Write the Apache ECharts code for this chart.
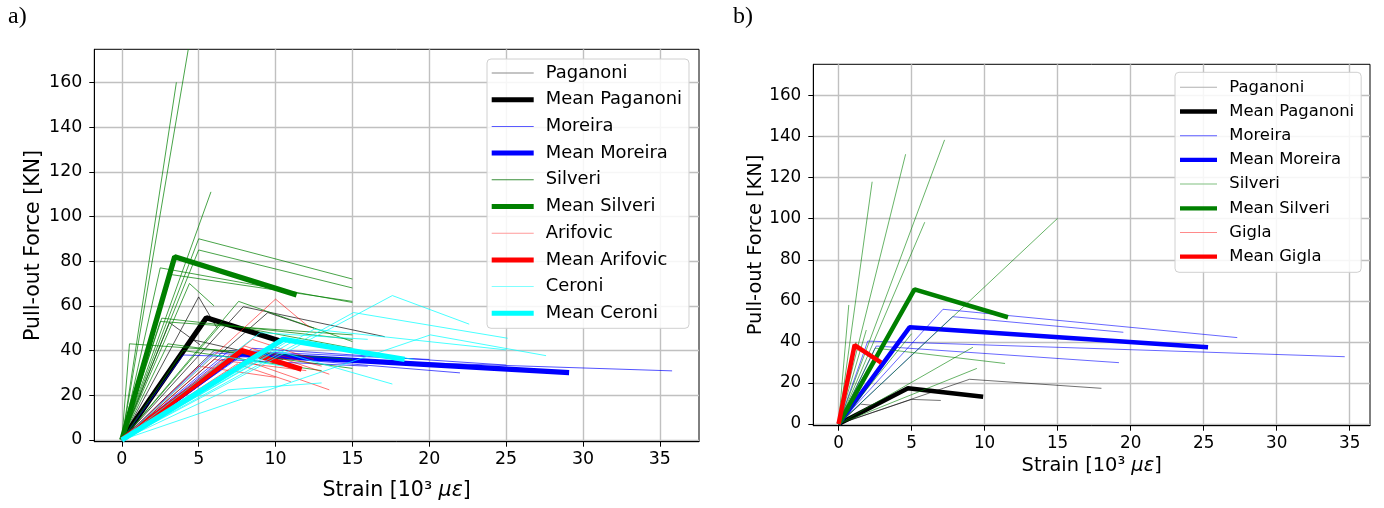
<!DOCTYPE html>
<html><head><meta charset="utf-8">
<script src="https://cdn.jsdelivr.net/npm/echarts@6/dist/echarts.min.js"></script>
<style>html,body{margin:0;padding:0;background:#fff}#c{width:1384px;height:508px}</style>
</head><body><div id="c"></div>
<script>
// ---------- Panel a) data : polylines [strain (10^3 µε), force (kN)] ----------
const paganoniA = [
  [[0,0],[5.0,64],[6.2,50]],
  [[0,0],[3.1,52.5],[5.1,42.5]],
  [[0,0],[7.9,59.6],[17.1,46.2]],
  [[0,0],[9.5,57],[12.5,50]],
  [[0,0],[4.5,45],[9,38]],
  [[0,0],[6,40],[10.5,36]]
];
const meanPaganoniA = [[0,0],[5.5,54.7],[10.4,44]];
const moreiraA = [
  [[0,0],[4,38],[35.8,30.9]],
  [[0,0],[6,39],[22,30]],
  [[0,0],[7,40],[20,36]],
  [[0,0],[8.5,41],[25,33.5]],
  [[0,0],[6.5,36],[16,33]]
];
const meanMoreiraA = [[0,0],[7.6,38.5],[29.1,30.1]];
const silveriA = [
  [[0,0],[4.6,186]],
  [[0,0],[3.55,160]],
  [[0,0],[5.8,111]],
  [[0,0],[5,90],[15,72]],
  [[0,0],[5,85],[15,68]],
  [[0,0],[2.5,77],[15,61.5]],
  [[0,0],[3.2,74],[15,62]],
  [[0,0],[7.6,62],[15,44]],
  [[0,0],[2.6,54.5],[15,45]],
  [[0,0],[2.5,53],[15,47]],
  [[0,0],[0.5,43],[15,36]],
  [[0,0],[3,43],[15,32]],
  [[0,0],[6.5,52],[15,41]],
  [[0,0],[4,40],[13,31]],
  [[0,0],[4.4,70],[6,60]]
];
const meanSilveriA = [[0,0],[3.44,82],[11.37,64.9]];
const arifovicA = [
  [[0,0],[10,63],[12.2,50.4]],
  [[0,0],[8,42],[13.5,29.4]],
  [[0,0],[7,38],[13.5,22.4]],
  [[0,0],[9,40],[13,33]],
  [[0,0],[6,36],[12,31]],
  [[0,0],[8.5,45],[12.5,36]],
  [[0,0],[7.5,34],[11,26]],
  [[0,0],[5,33],[10,28]]
];
const meanArifovicA = [[0,0],[7.8,40],[11.7,31.6]];
const ceroniA = [
  [[0,0],[17.6,64.6],[22.6,51.8]],
  [[0,0],[15.07,57],[25.1,45.5]],
  [[0,0],[12.5,49.5],[25,40.3]],
  [[0,0],[20.07,47],[27.6,37.7]],
  [[0,0],[10,40],[17.6,25]],
  [[0,0],[6.9,22.4],[13,25.5]],
  [[0,0],[9,48],[16,45]],
  [[0,0],[6,38],[10.5,33]],
  [[0,0],[11,45],[19,36]]
];
const meanCeroniA = [[0,0],[10.5,45],[18.4,36]];

// ---------- Panel b) data ----------
const paganoniB = [
  [[0,0],[8.97,21.8],[18,17.4]],
  [[0,0],[1.5,9.7],[2.5,9]],
  [[0,0],[5,12],[7,11.5]]
];
const meanPaganoniB = [[0,0],[4.75,17.4],[9.9,13.3]];
const moreiraB = [
  [[0,0],[7.15,55.9],[27.3,42.1]],
  [[0,0],[7.8,52.3],[19.5,44.7]],
  [[0,0],[2.0,40.4],[34.66,32.8]],
  [[0,0],[2.58,38],[19.2,29.9]]
];
const meanMoreiraB = [[0,0],[4.86,47.1],[25.3,37.4]];
const silveriB = [
  [[0,0],[4.59,131.4]],
  [[0,0],[7.26,138.4]],
  [[0,0],[2.3,118]],
  [[0,0],[5.9,98.3]],
  [[0,0],[0.7,58]],
  [[0,0],[15,100.2]],
  [[0,0],[9.2,37.4]],
  [[0,0],[9.47,27.1]],
  [[0,0],[2.5,37],[11.4,29.5]],
  [[0,0],[1.9,45.8]],
  [[0,0],[1.2,40]],
  [[0,0],[5,44]]
];
const meanSilveriB = [[0,0],[5.2,65.6],[11.6,52]];
const giglaB = [
  [[0,0],[1.0,37],[2.8,31]]
];
const meanGiglaB = [[0,0],[1.1,38.5],[2.92,29.9]];

// ---------- tick labels ----------
const xTicks = [0,5,10,15,20,25,30,35];
const yTicks = [0,20,40,60,80,100,120,140,160];
const legendA = ['Paganoni','Mean Paganoni','Moreira','Mean Moreira','Silveri','Mean Silveri','Arifovic','Mean Arifovic','Ceroni','Mean Ceroni'];
const legendB = ['Paganoni','Mean Paganoni','Moreira','Mean Moreira','Silveri','Mean Silveri','Gigla','Mean Gigla'];

const FONT = '"DejaVu Sans", sans-serif';
function group(arr, name, color, width, gi, op) {
  return arr.map(pts => ({
    type: 'line', name: name, xAxisIndex: gi, yAxisIndex: gi, data: pts,
    symbol: 'none', silent: true, animation: false,
    lineStyle: {color: color, width: width, opacity: op},
    itemStyle: {color: color}
  }));
}
function mean(pts, name, color, width, gi) {
  return group([pts], name, color, width, gi, 1);
}
const GREEN = '#008000';
const series = [].concat(
  group(paganoniA, 'Paganoni', '#000', 0.8, 0, 0.85),
  mean(meanPaganoniA, 'Mean Paganoni', '#000', 5.3, 0),
  group(moreiraA, 'Moreira', '#0000ff', 0.8, 0, 0.85),
  mean(meanMoreiraA, 'Mean Moreira', '#0000ff', 5.3, 0),
  group(silveriA, 'Silveri', GREEN, 0.8, 0, 0.9),
  mean(meanSilveriA, 'Mean Silveri', GREEN, 5.3, 0),
  group(arifovicA, 'Arifovic', '#ff0000', 0.8, 0, 0.7),
  mean(meanArifovicA, 'Mean Arifovic', '#ff0000', 5.3, 0),
  group(ceroniA, 'Ceroni', '#00ffff', 0.8, 0, 0.9),
  mean(meanCeroniA, 'Mean Ceroni', '#00ffff', 5.3, 0),

  group(paganoniB, 'Paganoni', '#000', 0.7, 1, 0.8),
  mean(meanPaganoniB, 'Mean Paganoni', '#000', 4.5, 1),
  group(moreiraB, 'Moreira', '#0000ff', 0.7, 1, 0.85),
  mean(meanMoreiraB, 'Mean Moreira', '#0000ff', 4.5, 1),
  group(silveriB, 'Silveri', GREEN, 0.7, 1, 0.85),
  mean(meanSilveriB, 'Mean Silveri', GREEN, 4.5, 1),
  group(giglaB, 'Gigla', '#ff0000', 0.7, 1, 0.6),
  mean(meanGiglaB, 'Mean Gigla', '#ff0000', 4.5, 1)
);

const thinColor = {
  'Paganoni': '#8a8a8a', 'Moreira': '#5a5aff', 'Silveri': '#3a8f3a',
  'Arifovic': '#ff9a9a', 'Ceroni': '#80ffff', 'Gigla': '#ff8a8a'
};
const thickColor = {
  'Mean Paganoni': '#000', 'Mean Moreira': '#0000ff', 'Mean Silveri': GREEN,
  'Mean Arifovic': '#ff0000', 'Mean Ceroni': '#00ffff', 'Mean Gigla': '#ff0000'
};
function legendData(names, w, thick, thinB) {
  return names.map(n => {
    const isMean = n.indexOf('Mean') === 0;
    let col = isMean ? thickColor[n] : thinColor[n];
    if (!isMean && thinB && n === 'Silveri') col = '#80c080';
    if (!isMean && thinB && n === 'Paganoni') col = '#b0b0b0';
    return {
      name: n,
      icon: isMean ? 'path://M0,0H' + w + 'V' + thick + 'H0Z' : 'path://M0,0H' + w + 'V1H0Z',
      itemStyle: {color: col, opacity: 1, borderWidth: 0}
    };
  });
}

function xAxis(gi, min, max, fs, nfs, gap) {
  return {
    type: 'value', gridIndex: gi, min: min, max: max,
    name: 'Strain [10³ {i|με}]', nameLocation: 'middle', nameGap: gap,
    nameTextStyle: {fontFamily: FONT, fontSize: nfs, color: '#000', rich: {i: {fontFamily: FONT, fontSize: nfs, fontStyle: 'italic', color: '#000'}}},
    axisLine: {show: true, onZero: false, lineStyle: {color: '#000', width: 1}},
    axisTick: {show: true, customValues: xTicks, length: 5, lineStyle: {color: '#000', width: 1}},
    axisLabel: {customValues: xTicks, margin: 9, fontFamily: FONT, fontSize: fs, color: '#000'},
    splitLine: {show: true, lineStyle: {color: '#c0c0c0', width: 1.4}}
  };
}
function yAxis(gi, min, max, fs, nfs, gap) {
  return {
    type: 'value', gridIndex: gi, min: min, max: max,
    name: 'Pull-out Force [KN]', nameLocation: 'middle', nameGap: gap,
    nameTextStyle: {fontFamily: FONT, fontSize: nfs, color: '#000'},
    axisLine: {show: true, onZero: false, lineStyle: {color: '#000', width: 1}},
    axisTick: {show: true, customValues: yTicks, length: 5, lineStyle: {color: '#000', width: 1}},
    axisLabel: {customValues: yTicks, margin: 12, fontFamily: FONT, fontSize: fs, color: '#000'},
    splitLine: {show: true, lineStyle: {color: '#c0c0c0', width: 1.4}}
  };
}

const option = {
  backgroundColor: '#fff',
  animation: false,
  grid: [
    {left: 94.3, top: 49.3, width: 604.7, height: 392.4, show: true, borderColor: '#000', borderWidth: 1, backgroundColor: 'transparent', containLabel: false},
    {left: 813.3, top: 64.3, width: 556.7, height: 361.4, show: true, borderColor: '#000', borderWidth: 1, backgroundColor: 'transparent', containLabel: false}
  ],
  xAxis: [xAxis(0, -1.79, 37.55, 17.4, 20.5, 38), xAxis(1, -1.73, 36.39, 16.8, 19.4, 31)],
  yAxis: [yAxis(0, -0.8, 174.8, 17.4, 20.5, 50), yAxis(1, -0.8, 175.2, 16.8, 19.4, 48)],
  legend: [
    {
      orient: 'vertical', left: 487, top: 59, padding: [4, 7, 5, 4.7],
      itemWidth: 42, itemHeight: 6, itemGap: 6.7, selectedMode: false,
      backgroundColor: 'rgba(255,255,255,0.85)', borderColor: '#d0d0d0', borderWidth: 1, borderRadius: 4,
      textStyle: {fontFamily: FONT, fontSize: 17.9, color: '#000', lineHeight: 20, padding: [0, 0, 0, 7]},
      data: legendData(legendA, 42, 5, false)
    },
    {
      orient: 'vertical', left: 1175, top: 72.3, padding: [6, 7, 6.6, 5],
      itemWidth: 37, itemHeight: 5, itemGap: 6.2, selectedMode: false,
      backgroundColor: 'rgba(255,255,255,0.85)', borderColor: '#d0d0d0', borderWidth: 1, borderRadius: 4,
      textStyle: {fontFamily: FONT, fontSize: 16.4, color: '#000', lineHeight: 18, padding: [0, 0, 0, 7.3]},
      data: legendData(legendB, 37, 4.3, true)
    }
  ],
  graphic: [
    {type: 'text', left: 8, top: 5, style: {text: 'a)', font: '24px "Liberation Serif", serif', fill: '#000'}},
    {type: 'text', left: 733, top: 5, style: {text: 'b)', font: '24px "Liberation Serif", serif', fill: '#000'}}
  ],
  series: series
};
const chart = echarts.init(document.getElementById('c'), null, {renderer: 'canvas'});
chart.setOption(option);
</script></body></html>
